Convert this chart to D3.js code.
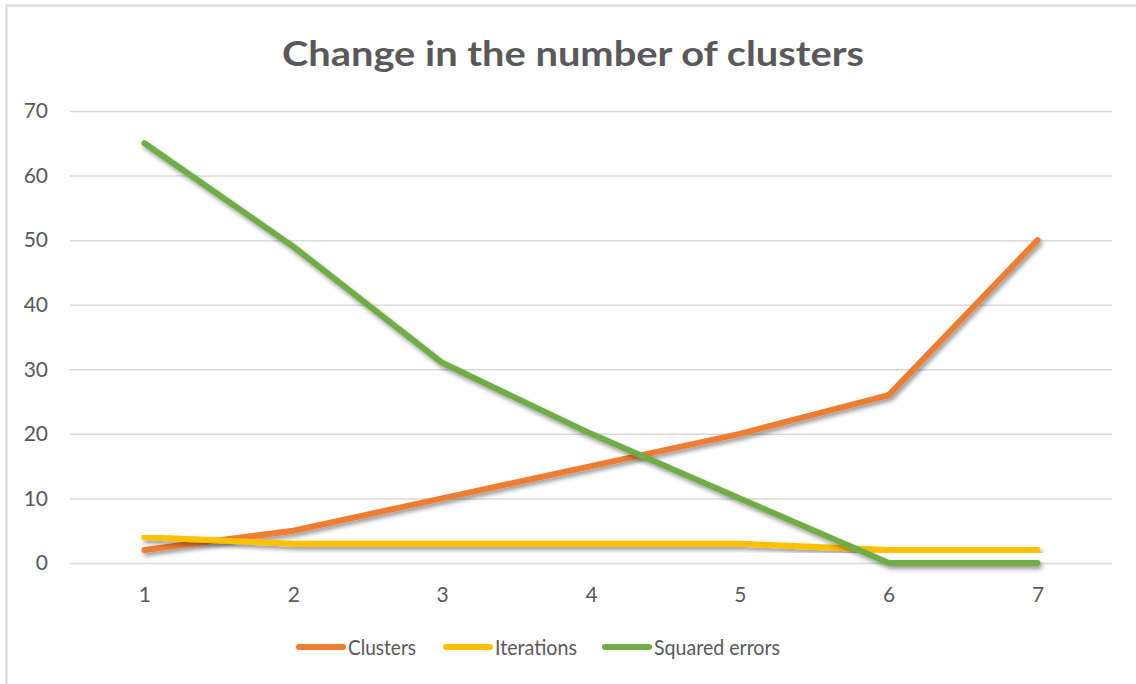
<!DOCTYPE html>
<html>
<head>
<meta charset="utf-8">
<script src="https://cdn.jsdelivr.net/npm/d3@7"></script>
<style>
    html, body { margin: 0; padding: 0; background: #fff; }
    svg { display: block; font-family: Lato, "Open Sans", sans-serif; }
</style>
</head>
<body>
<svg id="chart" width="1136" height="684"></svg>
<script>
    var categories = ['1', '2', '3', '4', '5', '6', '7'];
    var clusters = [2, 5, 10, 15, 20, 26, 50];
    var iterations = [4, 3, 3, 3, 3, 2, 2];
    var squaredErrors = [65, 49, 31, 20, 10, 0, 0];
    var yTicks = [0, 10, 20, 30, 40, 50, 60, 70];

    var series = [
        { name: 'Clusters', values: clusters, color: '#ED7D31' },
        { name: 'Iterations', values: iterations, color: '#FFC000' },
        { name: 'Squared errors', values: squaredErrors, color: '#70AD47' }
    ];

    var svg = d3.select('#chart');
    var textColor = '#595959';

    // chart frame (only left and top edges visible in the picture)
    svg.append('rect')
        .attr('x', 6.5).attr('y', 5.5)
        .attr('width', 1150).attr('height', 700)
        .attr('fill', 'none')
        .attr('stroke', '#d9d9d9')
        .attr('stroke-width', 2);

    var defs = svg.append('defs');
    defs.append('filter')
        .attr('id', 'shadow')
        .attr('x', '-10%').attr('y', '-10%')
        .attr('width', '120%').attr('height', '130%')
        .append('feDropShadow')
        .attr('dx', 2).attr('dy', 3)
        .attr('stdDeviation', 2.2)
        .attr('flood-color', '#000')
        .attr('flood-opacity', 0.4);

    var x = d3.scalePoint()
        .domain(categories)
        .range([70, 1112])
        .padding(0.5);

    var y = d3.scaleLinear()
        .domain([0, 70])
        .range([563, 111]);

    // title
    svg.append('text')
        .attr('x', 573).attr('y', 66)
        .attr('text-anchor', 'middle')
        .attr('fill', textColor)
        .style('font-size', '35px')
        .style('font-weight', 'bold')
        .attr('textLength', 582)
        .attr('lengthAdjust', 'spacingAndGlyphs')
        .text('Change in the number of clusters');

    // gridlines + y labels
    var yAxis = svg.append('g')
        .attr('transform', 'translate(70,0)')
        .call(d3.axisLeft(y).tickValues(yTicks).tickSize(-1042).tickPadding(22));
    yAxis.select('.domain').remove();
    yAxis.selectAll('.tick line').attr('stroke', '#d9d9d9').attr('stroke-width', 1.5);
    yAxis.selectAll('.tick text')
        .attr('fill', textColor)
        .style('font-size', '21px')
        .style('font-family', 'Lato, sans-serif');

    // x labels
    var xAxis = svg.append('g')
        .attr('transform', 'translate(0,563)')
        .call(d3.axisBottom(x).tickSize(0).tickPadding(24));
    xAxis.select('.domain').remove();
    xAxis.selectAll('.tick text')
        .attr('fill', textColor)
        .style('font-size', '21px')
        .style('font-family', 'Lato, sans-serif');

    var line = d3.line()
        .x(function(d, i) { return x(categories[i]); })
        .y(function(d) { return y(d); });

    svg.append('g')
        .selectAll('path')
        .data(series)
        .join('path')
        .attr('d', function(s) { return line(s.values); })
        .attr('fill', 'none')
        .attr('stroke', function(s) { return s.color; })
        .attr('stroke-width', 6)
        .attr('stroke-linecap', 'round')
        .attr('stroke-linejoin', 'round')
        .attr('filter', 'url(#shadow)');

    // legend
    var legendX = [296, 443, 602];
    var legendTextWidth = [68, 82, 126];
    var legend = svg.append('g')
        .selectAll('g')
        .data(series)
        .join('g')
        .attr('transform', function(s, i) { return 'translate(' + legendX[i] + ',647)'; });

    legend.append('line')
        .attr('x1', 3).attr('x2', 47)
        .attr('stroke', function(s) { return s.color; })
        .attr('stroke-width', 6)
        .attr('stroke-linecap', 'round');

    legend.append('text')
        .attr('x', 52).attr('y', 8)
        .attr('fill', textColor)
        .style('font-size', '21px')
        .attr('textLength', function(s, i) { return legendTextWidth[i]; })
        .attr('lengthAdjust', 'spacingAndGlyphs')
        .text(function(s) { return s.name; });
</script>
</body>
</html>
